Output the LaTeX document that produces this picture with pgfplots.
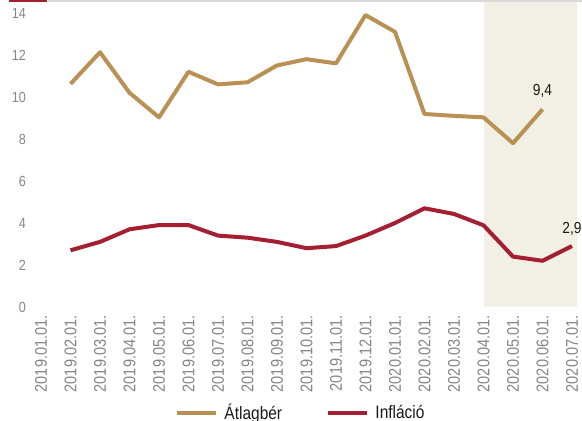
\documentclass[border=0pt]{standalone}
\usepackage{fontspec}
\setmainfont{Liberation Sans}[FakeStretch=0.86]
\usepackage{pgfplots}
\pgfplotsset{compat=1.18}
\definecolor{gold}{HTML}{B99155}
\definecolor{wine}{HTML}{A51F32}
\definecolor{shadebg}{HTML}{F2EFE5}
\definecolor{tickgray}{HTML}{858585}
\definecolor{topgray}{HTML}{D9D9D9}
\begin{document}
\begin{tikzpicture}
\useasboundingbox (0,0) rectangle (436.5pt,315.75pt);
\fill[wine] (6.75pt,314pt) rectangle (35.25pt,315.75pt);
\fill[topgray] (36pt,314pt) rectangle (436.5pt,315.75pt);
\begin{axis}[
  at={(19.69pt,85.5pt)}, anchor=south west,
  scale only axis, width=415.95pt, height=228.4pt,
  xmin=-0.5, xmax=18.3, ymin=0, ymax=14.5,
  axis line style={draw=none},
  major tick length=0pt,
  ytick={0,2,...,14},
  xtick={0,...,18},
  xticklabels={2019.01.01.,2019.02.01.,2019.03.01.,2019.04.01.,2019.05.01.,2019.06.01.,2019.07.01.,2019.08.01.,2019.09.01.,2019.10.01.,2019.11.01.,2019.12.01.,2020.01.01.,2020.02.01.,2020.03.01.,2020.04.01.,2020.05.01.,2020.06.01.,2020.07.01.},
  /pgf/number format/assume math mode=true,
  yticklabel style={font=\fontsize{11}{13}\selectfont, text=tickgray, anchor=east, inner sep=0pt},
  xticklabel style={font=\fontsize{12.7}{14}\selectfont, text=tickgray, rotate=90, anchor=east, inner sep=0pt},
  xticklabel shift=6pt,
  yticklabel shift=0pt,
  legend style={at={(0.268,-0.347)}, anchor=west, draw=none, fill=none,
    inner sep=0pt, legend columns=2, font=\fontsize{13.5}{15}\selectfont,
    text=black!90, nodes={inner sep=0pt},
    /tikz/every odd column/.append style={column sep=5pt},
    /tikz/every even column/.append style={column sep=33pt}},
  legend image code/.code={\draw[#1, line cap=butt] (-1pt,0pt) -- (28pt,0pt);},
  clip=false,
]
\fill[shadebg] (axis cs:15,0) rectangle (axis cs:18.155,14.5);
\addplot[gold, line width=3pt, line join=round] coordinates {
(1,10.62) (2,12.13) (3,10.2) (4,9.03) (5,11.2) (6,10.6) (7,10.7) (8,11.5) (9,11.8) (10,11.6) (11,13.9) (12,13.1) (13,9.19) (14,9.1) (15,9.03) (16,7.8) (17,9.41)};
\addlegendentry{Átlagbér}
\addplot[wine, line width=3pt, line join=round] coordinates {
(1,2.7) (2,3.1) (3,3.7) (4,3.9) (5,3.9) (6,3.4) (7,3.3) (8,3.1) (9,2.8) (10,2.9) (11,3.4) (12,4.0) (13,4.7) (14,4.43) (15,3.89) (16,2.4) (17,2.2) (18,2.9)};
\addlegendentry{Infláció}
\node[anchor=base, font=\fontsize{12}{14}\selectfont, text=black!90, yshift=10.4pt] at (axis cs:17,9.41) {9,4};
\node[anchor=base, font=\fontsize{12}{14}\selectfont, text=black!90, yshift=9.75pt] at (axis cs:18,2.9) {2,9};
\end{axis}
\end{tikzpicture}
\end{document}
